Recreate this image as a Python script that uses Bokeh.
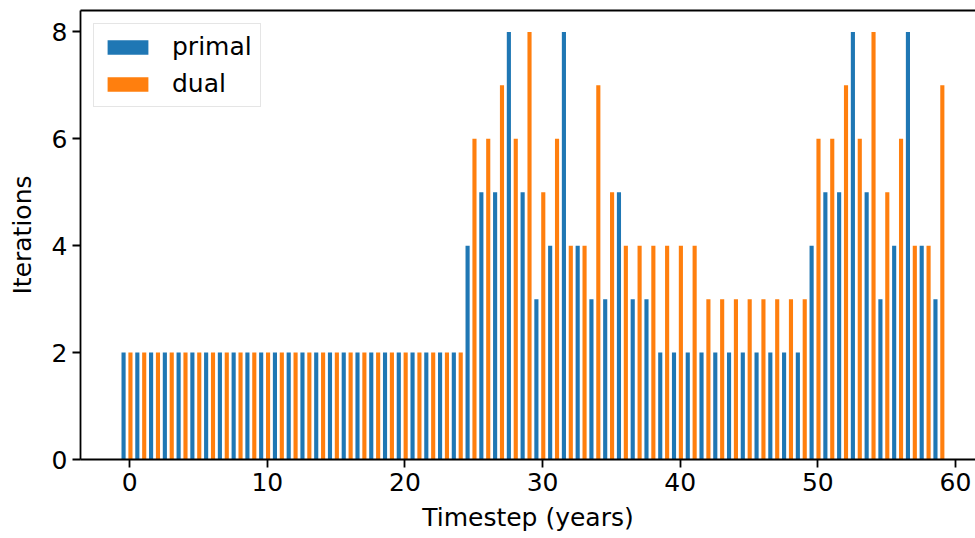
from bokeh.plotting import figure
from bokeh.models import ColumnDataSource, LinearAxis, FixedTicker, Legend, LegendItem, Range1d
from bokeh.embed import file_html
from bokeh.resources import INLINE

timesteps = list(range(60))
primal = [2]*25 + [4, 5, 5, 8, 5, 3, 4, 8, 4, 3,
                   3, 5, 3, 3, 2, 2, 2, 2, 2, 2,
                   2, 2, 2, 2, 2, 4, 5, 5, 8, 5,
                   3, 4, 8, 4, 3]
dual = [2]*25 + [6, 6, 7, 6, 8, 5, 6, 4, 4, 7,
                 5, 4, 4, 4, 4, 4, 4, 3, 3, 3,
                 3, 3, 3, 3, 3, 6, 6, 7, 6, 8,
                 5, 6, 4, 4, 7]
x_ticks = [0, 10, 20, 30, 40, 50, 60]
y_ticks = [0, 2, 4, 6, 8]

PRIMAL_OFF = -0.45
DUAL_OFF = 0.05
BAR_W = 0.3

src = ColumnDataSource(dict(
    xp=[t + PRIMAL_OFF for t in timesteps],
    xd=[t + DUAL_OFF for t in timesteps],
    primal=primal,
    dual=dual,
))

FONT = "DejaVu Sans"
FS = "25px"

p = figure(width=975, height=538, output_backend="svg", toolbar_location=None,
           x_range=Range1d(-3.58, 61.46), y_range=Range1d(0, 8.4),
           min_border_left=80, min_border_right=0, min_border_top=10, min_border_bottom=79)
p.outline_line_color = None
p.grid.visible = False
p.background_fill_color = "white"
p.border_fill_color = "white"

r1 = p.vbar(x="xp", top="primal", width=BAR_W, bottom=0, source=src,
            fill_color="#1f77b4", line_color=None)
r2 = p.vbar(x="xd", top="dual", width=BAR_W, bottom=0, source=src,
            fill_color="#ff7f0e", line_color=None)

for ax in (p.xaxis[0], p.yaxis[0]):
    ax.axis_line_width = 1.8
    ax.major_tick_line_width = 1.8
    ax.major_tick_out = 8
    ax.major_tick_in = 0
    ax.minor_tick_line_color = None
    ax.major_label_text_font = FONT
    ax.major_label_text_font_size = FS
    ax.major_label_text_color = "black"
    ax.axis_label_text_font = FONT
    ax.axis_label_text_font_size = FS
    ax.axis_label_text_font_style = "normal"
    ax.axis_label_text_color = "black"

p.xaxis[0].ticker = FixedTicker(ticks=x_ticks)
p.yaxis[0].ticker = FixedTicker(ticks=y_ticks)
p.xaxis[0].axis_label = "Timestep (years)"
p.yaxis[0].axis_label = "Iterations"
p.xaxis[0].major_label_standoff = 5
p.yaxis[0].major_label_standoff = 5
p.xaxis[0].axis_label_standoff = 9
p.yaxis[0].axis_label_standoff = 12

top_axis = LinearAxis(ticker=FixedTicker(ticks=[]), major_label_text_font_size="0px",
                      axis_line_width=1.8, major_tick_line_color=None, minor_tick_line_color=None)
p.add_layout(top_axis, "above")

legend = Legend(items=[LegendItem(label="primal", renderers=[r1]),
                       LegendItem(label="dual", renderers=[r2])],
                location="top_left")
legend.margin = 13
legend.padding = 8
legend.spacing = 8
legend.glyph_width = 51
legend.glyph_height = 18
legend.label_height = 24
legend.label_standoff = 19
legend.label_text_font = FONT
legend.label_text_font_size = FS
legend.label_text_color = "black"
legend.border_line_color = "#cccccc"
legend.border_line_width = 1.5
legend.background_fill_alpha = 0.8
p.add_layout(legend, "center")

open("out.html", "w").write(file_html(p, INLINE))
